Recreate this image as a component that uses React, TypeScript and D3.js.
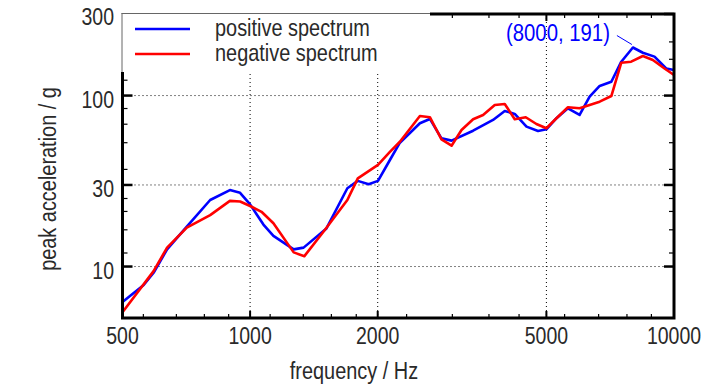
import React from 'react';
import * as d3 from 'd3';

// Positive spectrum (blue)
const positiveFreq = [
  500, 561, 592, 637, 709, 805, 896, 947, 1000, 1075, 1135, 1267, 1337, 1514,
  1696, 1795, 1904, 2003, 2137, 2256, 2515, 2655, 2828, 2987, 3358, 3742, 3988,
  4210, 4488, 4778, 5000, 5281, 5621, 5988, 6324, 6678, 7115, 7510, 8000, 8444,
  8996, 9585, 10000,
];
const positiveValues = [
  6.2, 7.8, 9.2, 12.6, 17.1, 24.5, 28.0, 27.0, 23.1, 17.6, 15.1, 12.6, 12.9, 16.7,
  28.7, 31.7, 30.3, 31.7, 42.0, 53.0, 68.9, 73.0, 56.2, 54.5, 62.3, 72.0, 81.3,
  78.1, 65.8, 62.1, 63.5, 73.7, 84.3, 77.0, 98.5, 113.8, 120.5, 157.8, 191, 178,
  169, 144, 141,
];

// Negative spectrum (red)
const negativeFreq = [
  500, 592, 637, 709, 805, 896, 947, 1000, 1064, 1135, 1267, 1343, 1502, 1696,
  1795, 2003, 2137, 2256, 2515, 2655, 2828, 2987, 3153, 3358, 3545, 3777, 3988,
  4210, 4470, 4736, 5000, 5281, 5621, 5988, 6678, 7115, 7510, 7925, 8444, 8915,
  9497, 10000,
];
const negativeValues = [
  5.4, 9.4, 12.9, 16.9, 20.0, 24.2, 24.0, 22.6, 20.9, 17.9, 12.1, 11.5, 16.4, 24.5,
  32.8, 39.3, 46.8, 53.7, 76.0, 74.7, 55.5, 50.9, 62.9, 72.7, 77.0, 88.1, 89.3,
  72.7, 74.7, 68.2, 64.4, 73.7, 85.4, 84.3, 92.1, 99.4, 155.7, 157.8, 170.4, 161.5,
  144, 132,
];

// Axis ticks
const xMajor = [500, 1000, 2000, 5000, 10000];
const xMinor = [560, 670, 780, 890, 1115, 1335, 1555, 1780, 2340, 3000, 3660, 4310, 5520, 6640, 7745, 8845];
const xGrid = [1000, 2000, 5000];
const yMajor = [10, 30, 100, 300];
const yMinor = [12, 16.4, 21, 25, 37, 53, 68, 84, 123, 163, 206];
const yGrid = [10, 30, 100];

const seriesNames = ['positive spectrum', 'negative spectrum'];
const seriesColors = ['#0000ff', '#ff0000'];
const peakLabel = '(8000, 191)';
const peak = { f: 8000, v: 191 };

const width = 728;
const height = 390;
const plot = { left: 122.5, right: 674, top: 14, bottom: 318 };
const font = "'Liberation Sans', Arial, sans-serif";
const textColor = '#2a2a2a';
const narrow = 0.83; // the original uses a condensed face; squeeze a regular one

type NTProps = {
  x: number;
  y: number;
  size: number;
  anchor?: 'start' | 'middle' | 'end';
  fill?: string;
  rotate?: number;
  children: React.ReactNode;
};

// Text squeezed horizontally to mimic a narrow font
const NarrowText: React.FC<NTProps> = ({
  x, y, size, anchor = 'start', fill = textColor, rotate = 0, children,
}) => (
  <g transform={`translate(${x},${y}) rotate(${rotate}) scale(${narrow},1)`}>
    <text textAnchor={anchor} fontFamily={font} fontSize={size} fill={fill}>{children}</text>
  </g>
);

const App: React.FC = () => {
  const x = d3.scaleLog().domain([500, 10000]).range([plot.left, plot.right]);
  const y = d3.scaleLog().domain([5, 300]).range([plot.bottom, plot.top]);

  const line = d3.line<[number, number]>()
    .x((d) => x(d[0]))
    .y((d) => y(d[1]));

  const posPath = line(positiveFreq.map((f, i) => [f, positiveValues[i]])) ?? '';
  const negPath = line(negativeFreq.map((f, i) => [f, negativeValues[i]])) ?? '';

  const px = x(peak.f);
  const py = y(peak.v);

  const legendRight = 430;
  const legendBottom = 72;

  return (
    <div style={{ position: 'absolute', left: 0, top: 0 }}>
      <svg width={width} height={height} style={{ display: 'block', background: '#fff' }}>
        {/* grid */}
        <g stroke="#000" strokeWidth={1} strokeDasharray="1,3">
          {xGrid.map((f) => (
            <line key={`gx${f}`} x1={x(f)} x2={x(f)} y1={plot.top} y2={plot.bottom} />
          ))}
          {yGrid.map((v) => (
            <line key={`gy${v}`} x1={plot.left} x2={plot.right} y1={y(v)} y2={y(v)} />
          ))}
        </g>

        {/* ticks on all four sides */}
        <g stroke="#000">
          {xMinor.map((f) => (
            <g key={`xm${f}`} strokeWidth={1.2}>
              <line x1={x(f)} x2={x(f)} y1={plot.bottom} y2={plot.bottom - 4} />
              <line x1={x(f)} x2={x(f)} y1={plot.top} y2={plot.top + 4} />
            </g>
          ))}
          {xMajor.map((f) => (
            <g key={`xM${f}`} strokeWidth={2}>
              <line x1={x(f)} x2={x(f)} y1={plot.bottom} y2={plot.bottom - 7} />
              <line x1={x(f)} x2={x(f)} y1={plot.top} y2={plot.top + 7} />
            </g>
          ))}
          {yMinor.map((v) => (
            <g key={`ym${v}`} strokeWidth={1.2}>
              <line x1={plot.left} x2={plot.left + 5} y1={y(v)} y2={y(v)} />
              <line x1={plot.right} x2={plot.right - 5} y1={y(v)} y2={y(v)} />
            </g>
          ))}
          {yMajor.map((v) => (
            <g key={`yM${v}`} strokeWidth={2.5}>
              <line x1={plot.left} x2={plot.left + 10} y1={y(v)} y2={y(v)} />
              <line x1={plot.right} x2={plot.right - 10} y1={y(v)} y2={y(v)} />
            </g>
          ))}
        </g>

        {/* data lines */}
        <path d={posPath} fill="none" stroke={seriesColors[0]} strokeWidth={2.6} strokeLinejoin="round" />
        <path d={negPath} fill="none" stroke={seriesColors[1]} strokeWidth={2.6} strokeLinejoin="round" />

        {/* frame */}
        <rect
          x={plot.left}
          y={plot.top}
          width={plot.right - plot.left}
          height={plot.bottom - plot.top}
          fill="none"
          stroke="#000"
          strokeWidth={3}
        />

        {/* legend: white patch over the frame corner, thin grey edges where it covers the frame */}
        <rect x={plot.left - 2} y={plot.top - 2} width={legendRight - plot.left + 2} height={legendBottom - plot.top + 2} fill="#fff" />
        <line x1={plot.left - 0.5} x2={plot.left - 0.5} y1={plot.top - 1} y2={legendBottom} stroke="#666" strokeWidth={1} />
        <line x1={plot.left - 1} x2={legendRight} y1={plot.top - 0.5} y2={plot.top - 0.5} stroke="#666" strokeWidth={1} />
        {seriesNames.map((name, i) => (
          <g key={name}>
            <line x1={135} x2={190} y1={29 + i * 25} y2={29 + i * 25} stroke={seriesColors[i]} strokeWidth={2.6} />
            <NarrowText x={215} y={36 + i * 25} size={24}>{name}</NarrowText>
          </g>
        ))}

        {/* peak annotation */}
        <line x1={px - 16} y1={py - 12} x2={px - 1} y2={py - 3} stroke="#0000ff" strokeWidth={1} />
        <NarrowText x={px - 23} y={41} size={24.5} anchor="end" fill="#0000ff">{peakLabel}</NarrowText>

        {/* tick labels */}
        {xMajor.map((f) => (
          <NarrowText key={`xl${f}`} x={x(f)} y={344} size={23.5} anchor="middle">{f}</NarrowText>
        ))}
        {yMajor.map((v) => (
          <NarrowText key={`yl${v}`} x={114} y={y(v) + (v === 300 ? 11 : 12.5)} size={23.5} anchor="end">
            {v}
          </NarrowText>
        ))}

        {/* axis titles */}
        <NarrowText x={354} y={379} size={24} anchor="middle">frequency / Hz</NarrowText>
        <NarrowText x={56} y={179} size={24} anchor="middle" rotate={-90}>peak acceleration / g</NarrowText>
      </svg>
    </div>
  );
};

export default App;
